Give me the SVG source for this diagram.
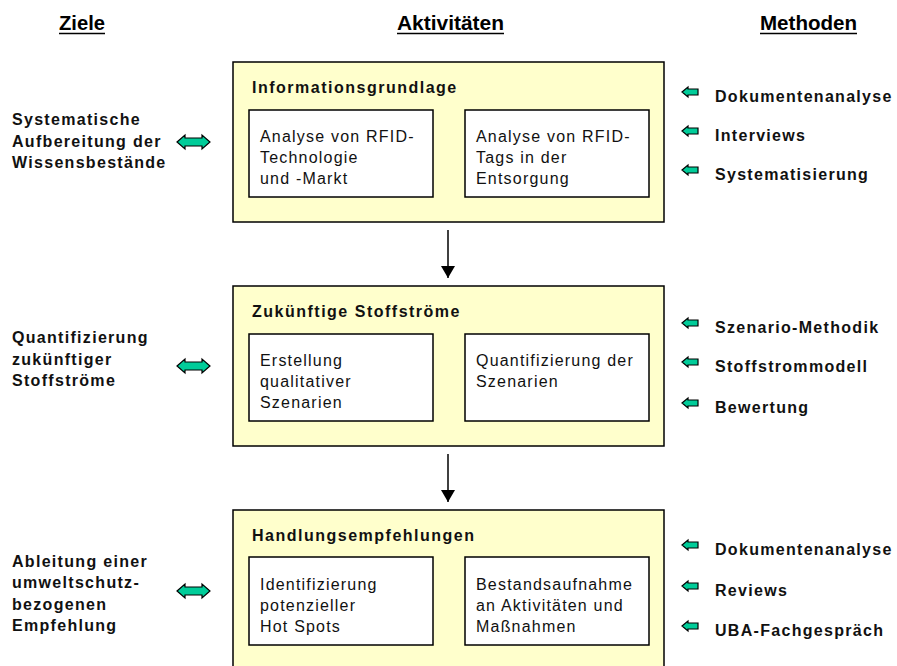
<svg xmlns="http://www.w3.org/2000/svg" width="897" height="666" viewBox="0 0 897 666">
  <defs>
    <style>
      .hdr { font-family: "Liberation Sans", Arial, sans-serif; font-weight: bold; font-size: 20px; fill: #000; }
      .lbl { font-family: "Liberation Sans", Arial, sans-serif; font-weight: bold; font-size: 16px; letter-spacing: 1.3px; fill: #111; }
      .ttl { font-family: "Liberation Sans", Arial, sans-serif; font-weight: bold; font-size: 16px; letter-spacing: 1.5px; fill: #111; }
      .txt { font-family: "Liberation Sans", Arial, sans-serif; font-size: 16px; letter-spacing: 1.2px; fill: #111; }
      .phase { fill: #FFFFCC; stroke: #000; stroke-width: 1.5; }
      .sub { fill: #FFFFFF; stroke: #000; stroke-width: 1.5; }
      .green { fill: #00CC99; stroke: #000; stroke-width: 1.2; stroke-linejoin: miter; }
      .flow { stroke: #000; stroke-width: 1.5; fill: none; }
    </style>
    <!-- double-headed block arrow, centred on (0,0) -->
    <path id="dbl" d="M-16.5,0 L-8.5,-7 L-8.5,-4 L8.5,-4 L8.5,-7 L16.5,0 L8.5,7 L8.5,4 L-8.5,4 L-8.5,7 Z"/>
    <!-- small left-pointing block arrow, centred on (0,0) -->
    <path id="lft" d="M-8,0 L-2,-5 L-2,-3 L8,-3 L8,3 L-2,3 L-2,5 Z"/>
    <marker id="head" viewBox="0 0 12 14" refX="12" refY="7" markerWidth="12" markerHeight="14" markerUnits="userSpaceOnUse" orient="auto">
      <path d="M0,0 L12,7 L0,14 Z" fill="#000"/>
    </marker>
  </defs>

  <rect width="897" height="666" fill="#FFFFFF"/>

  <!-- column headings -->
  <g id="headings">
    <text class="hdr" x="59" y="30" textLength="46" lengthAdjust="spacingAndGlyphs">Ziele</text>
    <line x1="59" y1="33.5" x2="105" y2="33.5" stroke="#000" stroke-width="1.6"/>
    <text class="hdr" x="397" y="30" textLength="107" lengthAdjust="spacingAndGlyphs">Aktivitäten</text>
    <line x1="397" y1="33.5" x2="504" y2="33.5" stroke="#000" stroke-width="1.6"/>
    <text class="hdr" x="760" y="30" textLength="97" lengthAdjust="spacingAndGlyphs">Methoden</text>
    <line x1="760" y1="33.5" x2="857" y2="33.5" stroke="#000" stroke-width="1.6"/>
  </g>

  <!-- phase 1 -->
  <g id="phase-informationsgrundlage">
    <rect class="phase" x="233" y="62" width="431" height="160"/>
    <text class="ttl" x="252" y="93">Informationsgrundlage</text>
    <rect class="sub" x="249" y="110" width="184" height="87"/>
    <text class="txt" x="260" y="142">Analyse von RFID-</text>
    <text class="txt" x="260" y="163">Technologie</text>
    <text class="txt" x="260" y="184">und -Markt</text>
    <rect class="sub" x="465" y="110" width="184" height="87"/>
    <text class="txt" x="476" y="142">Analyse von RFID-</text>
    <text class="txt" x="476" y="163">Tags in der</text>
    <text class="txt" x="476" y="184">Entsorgung</text>
  </g>

  <!-- phase 2 -->
  <g id="phase-stoffstroeme">
    <rect class="phase" x="233" y="286" width="431" height="160"/>
    <text class="ttl" x="252" y="317">Zukünftige Stoffströme</text>
    <rect class="sub" x="249" y="334" width="184" height="87"/>
    <text class="txt" x="260" y="366">Erstellung</text>
    <text class="txt" x="260" y="387">qualitativer</text>
    <text class="txt" x="260" y="408">Szenarien</text>
    <rect class="sub" x="465" y="334" width="184" height="87"/>
    <text class="txt" x="476" y="366">Quantifizierung der</text>
    <text class="txt" x="476" y="387">Szenarien</text>
  </g>

  <!-- phase 3 -->
  <g id="phase-handlungsempfehlungen">
    <rect class="phase" x="233" y="510" width="431" height="170"/>
    <text class="ttl" x="252" y="541">Handlungsempfehlungen</text>
    <rect class="sub" x="249" y="557" width="184" height="88"/>
    <text class="txt" x="260" y="590">Identifizierung</text>
    <text class="txt" x="260" y="611">potenzieller</text>
    <text class="txt" x="260" y="632">Hot Spots</text>
    <rect class="sub" x="465" y="557" width="184" height="88"/>
    <text class="txt" x="476" y="590">Bestandsaufnahme</text>
    <text class="txt" x="476" y="611">an Aktivitäten und</text>
    <text class="txt" x="476" y="632">Maßnahmen</text>
  </g>

  <!-- goals -->
  <g id="ziel-1">
    <text class="lbl" x="12" y="125">Systematische</text>
    <text class="lbl" x="12" y="147">Aufbereitung der</text>
    <text class="lbl" x="12" y="168">Wissensbestände</text>
  </g>
  <g id="ziel-2">
    <text class="lbl" x="12" y="343">Quantifizierung</text>
    <text class="lbl" x="12" y="365">zukünftiger</text>
    <text class="lbl" x="12" y="386">Stoffströme</text>
  </g>
  <g id="ziel-3">
    <text class="lbl" x="12" y="567">Ableitung einer</text>
    <text class="lbl" x="12" y="588">umweltschutz-</text>
    <text class="lbl" x="12" y="610">bezogenen</text>
    <text class="lbl" x="12" y="631">Empfehlung</text>
  </g>

  <!-- methods -->
  <g id="methoden-1">
    <text class="lbl" x="715" y="102">Dokumentenanalyse</text>
    <text class="lbl" x="715" y="141">Interviews</text>
    <text class="lbl" x="715" y="180">Systematisierung</text>
  </g>
  <g id="methoden-2">
    <text class="lbl" x="715" y="333">Szenario-Methodik</text>
    <text class="lbl" x="715" y="372">Stoffstrommodell</text>
    <text class="lbl" x="715" y="413">Bewertung</text>
  </g>
  <g id="methoden-3">
    <text class="lbl" x="715" y="555">Dokumentenanalyse</text>
    <text class="lbl" x="715" y="596">Reviews</text>
    <text class="lbl" x="715" y="636">UBA-Fachgespräch</text>
  </g>

  <!-- connectors -->
  <g id="connectors">
    <line class="flow" x1="448" y1="230" x2="448" y2="278" marker-end="url(#head)"/>
    <line class="flow" x1="448" y1="454" x2="448" y2="502" marker-end="url(#head)"/>

    <use href="#dbl" class="green" x="193.5" y="142"/>
    <use href="#dbl" class="green" x="193.5" y="366"/>
    <use href="#dbl" class="green" x="193.5" y="591"/>

    <use href="#lft" class="green" x="690" y="92"/>
    <use href="#lft" class="green" x="690" y="131"/>
    <use href="#lft" class="green" x="690" y="170"/>
    <use href="#lft" class="green" x="690" y="323"/>
    <use href="#lft" class="green" x="690" y="362"/>
    <use href="#lft" class="green" x="690" y="403"/>
    <use href="#lft" class="green" x="690" y="545"/>
    <use href="#lft" class="green" x="690" y="586"/>
    <use href="#lft" class="green" x="690" y="626"/>
  </g>
</svg>
